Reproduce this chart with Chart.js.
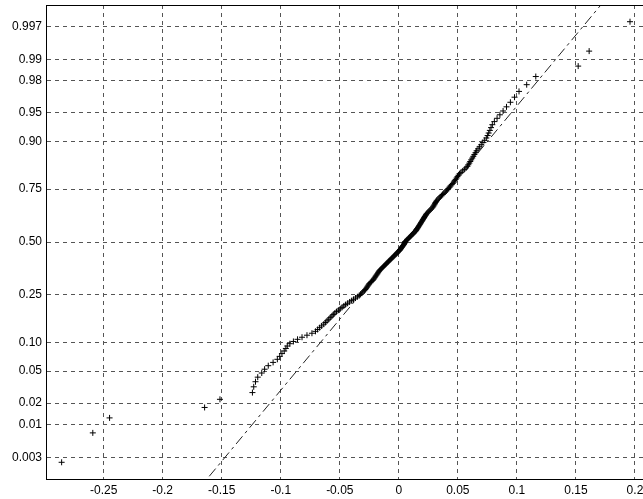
<!DOCTYPE html>
<html>
<head>
<meta charset="utf-8">
<style>
  html, body { margin: 0; padding: 0; overflow: hidden; background: #fff; }
  canvas { display: block; }
</style>
<script src="https://cdn.jsdelivr.net/npm/chart.js@4/dist/chart.umd.min.js"></script>
</head>
<body>
<canvas id="normplot" width="660" height="499"></canvas>
<script>
// Ordered sample (200 observations), plotted against normal order-statistic positions
const sampleValues = [
  -0.2856, -0.2592, -0.2450, -0.1645, -0.1515, -0.1240, -0.1229, -0.1214, -0.1195, -0.1161,
  -0.1137, -0.1106, -0.1065, -0.1029, -0.1009, -0.0990, -0.0971, -0.0957, -0.0945, -0.0923,
  -0.0893, -0.0858, -0.0820, -0.0778, -0.0736, -0.0706, -0.0688, -0.0671, -0.0654, -0.0636,
  -0.0622, -0.0608, -0.0594, -0.0581, -0.0567, -0.0555, -0.0542, -0.0528, -0.0512, -0.0496,
  -0.0481, -0.0466, -0.0451, -0.0434, -0.0417, -0.0400, -0.0384, -0.0367, -0.0351, -0.0335,
  -0.0324, -0.0313, -0.0303, -0.0292, -0.0284, -0.0277, -0.0270, -0.0263, -0.0256, -0.0250,
  -0.0241, -0.0231, -0.0221, -0.0214, -0.0208, -0.0201, -0.0195, -0.0188, -0.0182, -0.0176,
  -0.0170, -0.0164, -0.0156, -0.0147, -0.0138, -0.0130, -0.0121, -0.0112, -0.0104, -0.0095,
  -0.0087, -0.0078, -0.0069, -0.0061, -0.0052, -0.0043, -0.0035, -0.0026, -0.0018, -0.0010,
  -0.0001,  0.0007,  0.0013,  0.0019,  0.0025,  0.0031,  0.0037,  0.0043,  0.0047,  0.0050,
   0.0054,  0.0063,  0.0071,  0.0080,  0.0088,  0.0097,  0.0105,  0.0113,  0.0122,  0.0130,
   0.0139,  0.0146,  0.0151,  0.0156,  0.0162,  0.0167,  0.0172,  0.0178,  0.0183,  0.0188,
   0.0194,  0.0199,  0.0204,  0.0210,  0.0215,  0.0220,  0.0226,  0.0231,  0.0237,  0.0246,
   0.0255,  0.0264,  0.0273,  0.0282,  0.0290,  0.0295,  0.0301,  0.0306,  0.0311,  0.0317,
   0.0322,  0.0332,  0.0342,  0.0351,  0.0361,  0.0371,  0.0381,  0.0392,  0.0402,  0.0411,
   0.0420,  0.0429,  0.0438,  0.0448,  0.0457,  0.0466,  0.0473,  0.0481,  0.0489,  0.0497,
   0.0505,  0.0514,  0.0526,  0.0541,  0.0555,  0.0570,  0.0581,  0.0589,  0.0597,  0.0605,
   0.0613,  0.0622,  0.0631,  0.0640,  0.0650,  0.0659,  0.0671,  0.0684,  0.0698,  0.0712,
   0.0727,  0.0741,  0.0752,  0.0761,  0.0771,  0.0781,  0.0792,  0.0809,  0.0832,  0.0856,
   0.0883,  0.0912,  0.0945,  0.0980,  0.1018,  0.1083,  0.1160,  0.1519,  0.1612,  0.1958
];

// Probability axis: tick positions and their labels
const probTicks = [0.003, 0.01, 0.02, 0.05, 0.10, 0.25, 0.50, 0.75, 0.90, 0.95, 0.98, 0.99, 0.997];
const probTickLabels = ['0.003', '0.01', '0.02', '0.05', '0.10', '0.25', '0.50', '0.75', '0.90', '0.95', '0.98', '0.99', '0.997'];

// Data axis ticks
const xTickValues = [-0.25, -0.2, -0.15, -0.1, -0.05, 0, 0.05, 0.1, 0.15, 0.2];
const xTickLabels = ['-0.25', '-0.2', '-0.15', '-0.1', '-0.05', '0', '0.05', '0.1', '0.15', '0.2'];

// Inverse standard normal CDF (Acklam's rational approximation)
function norminv(p) {
  const a = [-3.969683028665376e+01, 2.209460984245205e+02, -2.759285104469687e+02,
              1.383577518672690e+02, -3.066479806614716e+01, 2.506628277459239e+00];
  const b = [-5.447609879822406e+01, 1.615858368580409e+02, -1.556989798598866e+02,
              6.680131188771972e+01, -1.328068155288572e+01];
  const c = [-7.784894002430293e-03, -3.223964580411365e-01, -2.400758277161838e+00,
             -2.549732539343734e+00, 4.374664141464968e+00, 2.938163982698783e+00];
  const d = [7.784695709041462e-03, 3.224671290700398e-01, 2.445134137142996e+00,
             3.754408661907416e+00];
  const pl = 0.02425, ph = 1 - pl;
  let q, r;
  if (p < pl) {
    q = Math.sqrt(-2 * Math.log(p));
    return (((((c[0]*q + c[1])*q + c[2])*q + c[3])*q + c[4])*q + c[5]) /
           ((((d[0]*q + d[1])*q + d[2])*q + d[3])*q + 1);
  }
  if (p > ph) {
    q = Math.sqrt(-2 * Math.log(1 - p));
    return -(((((c[0]*q + c[1])*q + c[2])*q + c[3])*q + c[4])*q + c[5]) /
            ((((d[0]*q + d[1])*q + d[2])*q + d[3])*q + 1);
  }
  q = p - 0.5; r = q * q;
  return (((((a[0]*r + a[1])*r + a[2])*r + a[3])*r + a[4])*r + a[5]) * q /
         (((((b[0]*r + b[1])*r + b[2])*r + b[3])*r + b[4])*r + 1);
}

const n = sampleValues.length;
const points = sampleValues.map((v, i) => ({ x: v, y: norminv((i + 0.5) / n) }));

// Percentile with midpoint interpolation between order statistics
function percentile(sorted, p) {
  const pos = p * sorted.length + 0.5;
  const lo = Math.min(Math.max(Math.floor(pos), 1), sorted.length);
  const hi = Math.min(lo + 1, sorted.length);
  const f = pos - Math.floor(pos);
  return sorted[lo - 1] + f * (sorted[hi - 1] - sorted[lo - 1]);
}

// Reference line through the first and third quartiles
const q1 = percentile(sampleValues, 0.25);
const q3 = percentile(sampleValues, 0.75);
const z1 = norminv(0.25), z3 = norminv(0.75);
const slope = (z3 - z1) / (q3 - q1);
const zAt = x => z1 + (x - q1) * slope;
const minX = sampleValues[0], maxX = sampleValues[n - 1];
const extendedLine = [{ x: minX, y: zAt(minX) }, { x: maxX, y: zAt(maxX) }];
const quartileLine = [{ x: q1, y: z1 }, { x: q3, y: z3 }];

const tickFont = { family: "'Liberation Sans', Arial, Helvetica, sans-serif", size: 12 };

// Axes frame drawn round the plotting area
const framePlugin = {
  id: 'frame',
  afterDraw(chart) {
    const { ctx, chartArea: a } = chart;
    ctx.save();
    ctx.strokeStyle = '#000';
    ctx.lineWidth = 1;
    ctx.setLineDash([]);
    ctx.strokeRect(Math.round(a.left) - 0.5, Math.round(a.top) + 0.5,
                   Math.round(a.right - a.left), Math.round(a.bottom - a.top));
    ctx.restore();
  }
};

new Chart(document.getElementById('normplot'), {
  type: 'scatter',
  data: {
    datasets: [
      {
        label: 'sample',
        data: points,
        showLine: false,
        pointStyle: 'cross',
        pointRadius: 3,
        pointBorderWidth: 1,
        pointBorderColor: '#000',
        pointBackgroundColor: '#000',
        order: 1
      },
      {
        label: 'fit extension',
        data: extendedLine,
        showLine: true,
        pointRadius: 0,
        borderColor: '#222',
        borderWidth: 1,
        borderDash: [10, 4, 3, 4],
        order: 2
      },
      {
        label: 'fit',
        data: quartileLine,
        showLine: true,
        pointRadius: 0,
        borderColor: '#222',
        borderWidth: 1,
        order: 2
      }
    ]
  },
  options: {
    responsive: false,
    animation: false,
    devicePixelRatio: 1,
    layout: { padding: { top: 4, right: 15, left: 0, bottom: 0 } },
    plugins: { legend: { display: false }, tooltip: { enabled: false } },
    scales: {
      x: {
        type: 'linear',
        min: -0.298,
        max: 0.2085,
        afterBuildTicks(scale) { scale.ticks = xTickValues.map(v => ({ value: v })); },
        afterFit(scale) {
          scale.height = 20;
          scale.paddingLeft = 0;
          scale.paddingRight = 0;
        },
        ticks: {
          autoSkip: false,
          maxRotation: 0,
          padding: 4,
          color: '#000',
          font: tickFont,
          callback: (v, i) => xTickLabels[i]
        },
        grid: { color: '#555', lineWidth: 1, drawTicks: false },
        border: { display: false, dash: [4, 4] }
      },
      y: {
        type: 'linear',
        min: -3.02,
        max: 3.02,
        afterBuildTicks(scale) { scale.ticks = probTicks.map(p => ({ value: norminv(p) })); },
        afterFit(scale) {
          scale.width = 47;
          scale.paddingTop = 0;
          scale.paddingBottom = 0;
        },
        ticks: {
          autoSkip: false,
          padding: 5,
          color: '#000',
          font: tickFont,
          callback: (v, i) => probTickLabels[i]
        },
        grid: { color: '#555', lineWidth: 1, drawTicks: false },
        border: { display: false, dash: [4, 4] }
      }
    }
  },
  plugins: [framePlugin]
});
</script>
</body>
</html>
